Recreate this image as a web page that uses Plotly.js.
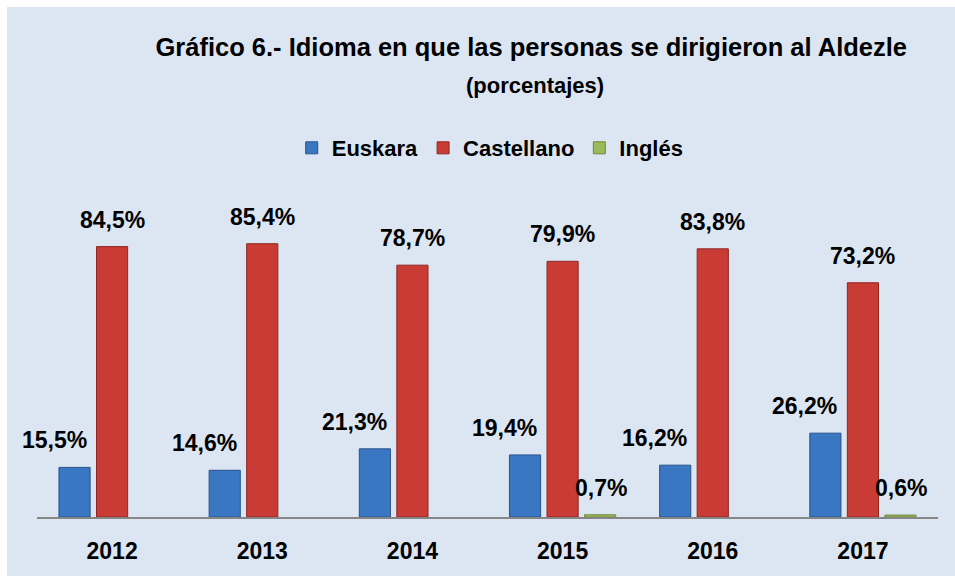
<!DOCTYPE html>
<html>
<head>
<meta charset="utf-8">
<script src="https://cdn.plot.ly/plotly-3.0.1.min.js"></script>
<style>
  html, body { margin: 0; padding: 0; background: #ffffff; overflow: hidden; }
  #chart { position: absolute; left: 7px; top: 7px; width: 948px; height: 569px; }
</style>
</head>
<body>
<div id="chart"></div>
<script>
const years = ['2012', '2013', '2014', '2015', '2016', '2017'];
const euskara = [15.5, 14.6, 21.3, 19.4, 16.2, 26.2];
const castellano = [84.5, 85.4, 78.7, 79.9, 83.8, 73.2];
const ingles = [null, null, null, 0.7, null, 0.6];
const seriesNames = ['Euskara', 'Castellano', 'Inglés'];

const FONT = 'Liberation Sans, Arial, sans-serif';
const colors = ['#3a77c2', '#c93b35', '#9bbb59'];
const edges = ['#27538c', '#8e2622', '#6f8a3a'];
const allSeries = [euskara, castellano, ingles];

const traces = allSeries.map((vals, i) => ({
  type: 'bar',
  name: seriesNames[i],
  x: years,
  y: vals,
  marker: { color: colors[i], line: { color: edges[i], width: 1 } },
  hoverinfo: 'skip'
}));

const fmt = v => v.toFixed(1).replace('.', ',') + '%';
const labelShift = [-58, 0, 38];
const annotations = [];
allSeries.forEach((vals, i) => {
  vals.forEach((v, j) => {
    if (v === null) return;
    annotations.push({
      x: j, y: v, xref: 'x', yref: 'y',
      text: '<b>' + fmt(v) + '</b>',
      showarrow: false, xanchor: 'center', yanchor: 'middle',
      xshift: labelShift[i], yshift: 27,
      font: { family: FONT, size: 23, color: '#000000' }
    });
  });
});
annotations.push({
  text: '<b>(porcentajes)</b>', xref: 'paper', yref: 'paper',
  x: 0.553, y: 1.347, xanchor: 'center', yanchor: 'middle', showarrow: false,
  font: { family: FONT, size: 22, color: '#000000' }
});

const layout = {
  width: 948, height: 569,
  paper_bgcolor: '#dce6f2', plot_bgcolor: 'rgba(0,0,0,0)',
  margin: { l: 30, r: 17, t: 190, b: 59 },
  barmode: 'group', bargap: 0.25, bargroupgap: 0.17,
  title: {
    text: '<b>Gráfico 6.- Idioma en que las personas se dirigieron al Aldezle</b>',
    xref: 'container', yref: 'container', x: 0.553, y: 0.93,
    xanchor: 'center', yanchor: 'middle',
    font: { family: FONT, size: 25.5, color: '#000000' }
  },
  showlegend: true,
  legend: {
    orientation: 'h', x: 0.503, y: 1.153, xanchor: 'center', yanchor: 'middle',
    font: { family: FONT, size: 22, color: '#000000', weight: 'bold' },
    bgcolor: 'rgba(0,0,0,0)', itemclick: false, itemdoubleclick: false
  },
  xaxis: {
    type: 'category', range: [-0.5, 5.5], autorange: false,
    showline: true, linecolor: '#868686', linewidth: 2,
    ticks: '', ticklabelstandoff: 12, showgrid: false, zeroline: false,
    tickfont: { family: FONT, size: 23, color: '#000000', weight: 'bold' }
  },
  yaxis: {
    range: [0, 100], autorange: false, visible: false, showgrid: false, zeroline: false, fixedrange: true
  },
  annotations: annotations
};

Plotly.newPlot('chart', traces, layout, { displayModeBar: false, staticPlot: true });
</script>
</body>
</html>
